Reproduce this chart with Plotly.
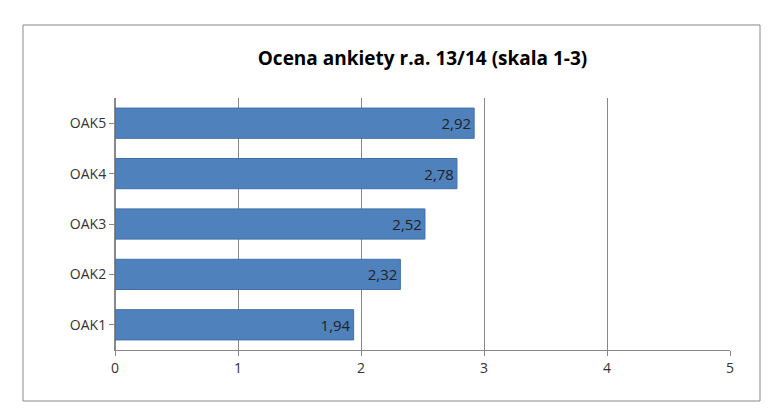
import plotly.graph_objects as go

categories = ["OAK1", "OAK2", "OAK3", "OAK4", "OAK5"]
values = [1.94, 2.32, 2.52, 2.78, 2.92]
title = "Ocena ankiety r.a. 13/14 (skala 1-3)"

fig = go.Figure(go.Bar(
    x=values, y=categories, orientation="h", width=0.6,
    marker=dict(color="#4F81BD", line=dict(color="#3F6FA8", width=1)),
    text=values, texttemplate="%{x:.2f}", textposition="inside",
    insidetextanchor="end", textfont=dict(color="#222222", size=15),
))

fig.update_layout(
    width=769, height=410, separators=", ",
    margin=dict(l=107, r=47, t=90, b=68, autoexpand=False),
    paper_bgcolor="white", plot_bgcolor="white",
    font=dict(family="Open Sans", color="#333333", size=14),
    title=dict(text="<b>" + title + "</b>", x=0.5, xref="paper",
               y=0.878, yref="container", yanchor="middle",
               font=dict(size=19, color="black")),
    showlegend=False, bargap=0.4,
    shapes=[dict(type="rect", xref="paper", yref="paper",
                 x0=-0.1496, x1=1.0488, y0=-0.2024, y1=1.2897,
                 line=dict(color="#888888", width=1))],
)
fig.update_xaxes(range=[0, 5], dtick=1, showgrid=True, gridcolor="#888888",
                 zeroline=True, zerolinecolor="#888888", showline=True,
                 linecolor="#888888", ticks="outside", ticklen=5,
                 tickcolor="#888888", tickfont=dict(size=14), automargin=False)
fig.update_yaxes(showline=True, linecolor="#888888", ticks="outside",
                 ticklen=5, tickcolor="#888888", tickfont=dict(size=14),
                 automargin=False)

fig.write_html("out.html")
